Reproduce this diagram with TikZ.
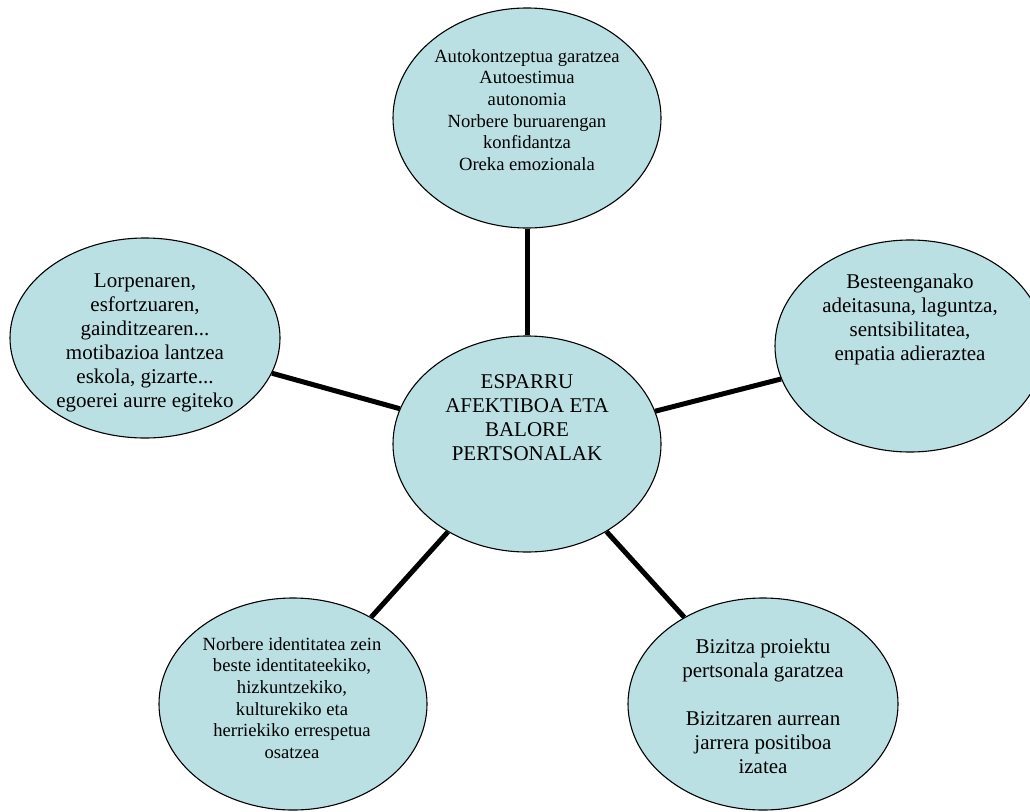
\documentclass[tikz,border=0pt]{standalone}
\usepackage{fontspec}
\setmainfont{Liberation Serif}
\usetikzlibrary{shapes.geometric,backgrounds}
\definecolor{bubble}{RGB}{187,224,227}
\tikzset{
  bubble/.style={ellipse, draw=black, line width=1.1pt, fill=bubble, inner sep=0pt},
  bigtxt/.style={align=center, inner sep=0pt, font=\fontsize{21}{24}\selectfont},
  smalltxt/.style={align=center, inner sep=0pt, font=\fontsize{18.6}{21.6}\selectfont},
  link/.style={line width=5pt}
}
\begin{document}
\begin{tikzpicture}[x=1pt,y=-1pt]
\useasboundingbox (0,0) rectangle (1030,811);
\clip (0,0) rectangle (1030,811);
% ellipses
\node[bubble, minimum width=268pt, minimum height=220pt] (top) at (527,118) {};
\node[bubble, minimum width=268pt, minimum height=216pt] (mid) at (527,444) {};
\node[bubble, minimum width=270pt, minimum height=200pt] (lft) at (145,338) {};
\node[bubble, minimum width=270pt, minimum height=212pt] (rgt) at (910,346) {};
\node[bubble, minimum width=268pt, minimum height=212pt] (bl) at (293,704) {};
\node[bubble, minimum width=270pt, minimum height=212pt] (br) at (763,704) {};
% texts
\node[smalltxt] (ttop) at (527,110) {Autokontzeptua garatzea\\Autoestimua\\autonomia\\Norbere buruarengan\\konfidantza\\Oreka emozionala};
\node[bigtxt] (tmid) at (527,418) {ESPARRU\\AFEKTIBOA ETA\\BALORE\\PERTSONALAK};
\node[bigtxt] (tlft) at (145,343) {Lorpenaren,\\esfortzuaren,\\gainditzearen...\\motibazioa lantzea\\eskola, gizarte...\\egoerei aurre egiteko};
\node[bigtxt] (trgt) at (910,319) {Besteenganako\\adeitasuna, laguntza,\\sentsibilitatea,\\enpatia adieraztea};
\node[smalltxt] (tbl) at (292,698) {Norbere identitatea zein\\beste identitateekiko,\\hizkuntzekiko,\\kulturekiko eta\\herriekiko errespetua\\osatzea};
\node[bigtxt] (tbr) at (763,706) {Bizitza proiektu\\pertsonala garatzea\\[24pt]Bizitzaren aurrean\\jarrera positiboa\\izatea};
% connectors
\begin{scope}[on background layer]
\draw[link] (mid) -- (top);
\draw[link] (mid) -- (lft);
\draw[link] (mid) -- (rgt);
\draw[link] (mid) -- (bl);
\draw[link] (mid) -- (br);
\end{scope}
\end{tikzpicture}
\end{document}
